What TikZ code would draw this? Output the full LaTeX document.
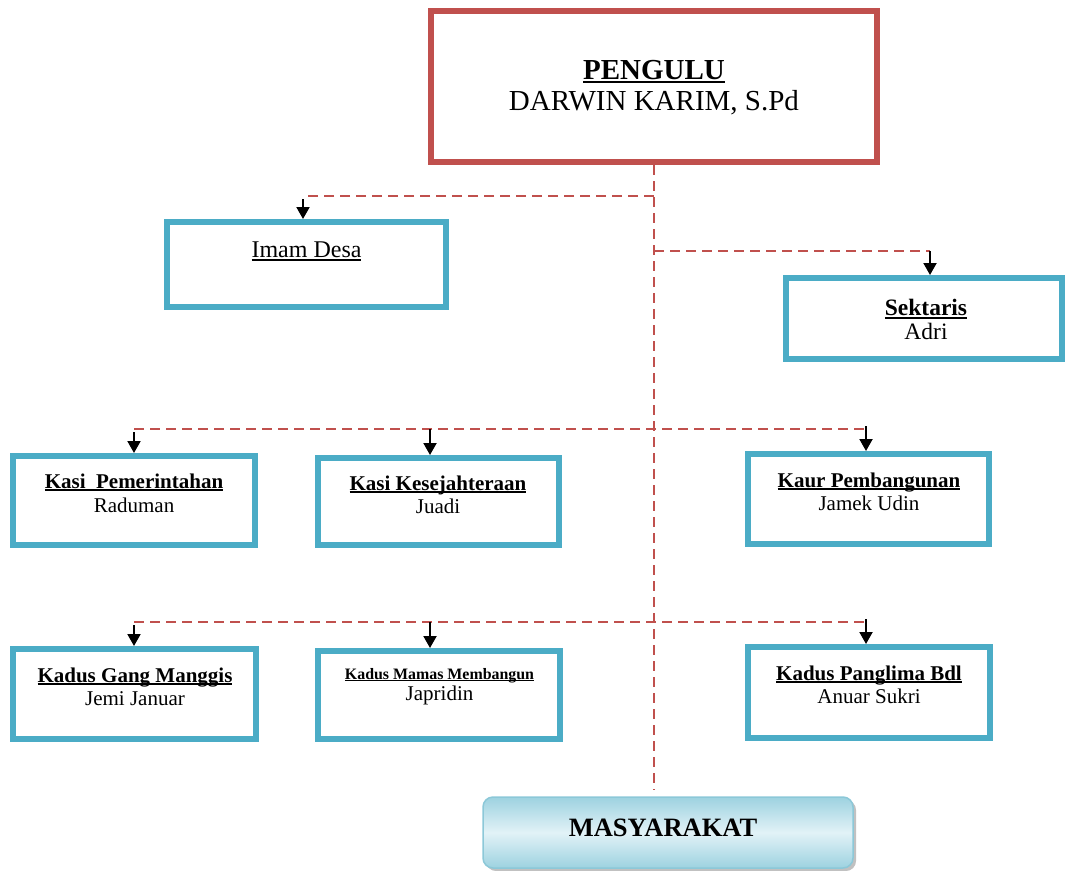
\documentclass[tikz,border=0pt]{standalone}
\usepackage{fontspec}
\setmainfont{Liberation Serif}
\usetikzlibrary{arrows.meta,shadows}
\definecolor{boxred}{HTML}{C0504D}
\definecolor{boxblue}{HTML}{4BACC6}
\definecolor{masyedge}{HTML}{8CC8D8}
\definecolor{masydark}{HTML}{9DD2E0}
\definecolor{masylight}{HTML}{E2F2F7}
\newsavebox\ulsave
\newcommand\wul[1]{\sbox\ulsave{#1}\rlap{\vrule height -0.07em depth 0.15em width \wd\ulsave}\usebox\ulsave}
\begin{document}
\begin{tikzpicture}[x=1pt,y=-1pt,
  redbox/.style={draw=boxred, line width=6pt, fill=white, inner sep=0pt},
  bluebox/.style={draw=boxblue, line width=6pt, fill=white, inner sep=0pt},
  txt/.style={inner sep=0pt, anchor=base},
  big/.style={font=\fontsize{29}{32}\selectfont},
  mid/.style={font=\fontsize{23.5}{26}\selectfont},
  norm/.style={font=\fontsize{21}{24}\selectfont},
  small/.style={font=\fontsize{15.9}{18}\selectfont},
  dashline/.style={draw=boxred, line width=2.5pt, dash pattern=on 10pt off 6pt},
  arr/.style={draw=black, line width=2pt, -{Triangle[width=13pt,length=12pt]}},
  masybox/.style={draw=masyedge, line width=1.5pt, rounded corners=10pt, inner sep=0pt,
    shading angle=20, top color=masydark, bottom color=masydark, middle color=masylight,
    drop shadow={shadow xshift=3pt, shadow yshift=-3pt, fill=gray!70, opacity=.7}}
]
\useasboundingbox (0,0) rectangle (1065,870);

% boxes
\node[redbox, minimum width=446pt, minimum height=151pt] (peng) at (654,86.5) {};
\node[bluebox, minimum width=279pt, minimum height=85pt] (imam) at (306.5,264.5) {};
\node[bluebox, minimum width=276pt, minimum height=81pt] (sek) at (924,318.5) {};
\node[bluebox, minimum width=242pt, minimum height=89pt] (kpem) at (134,500.5) {};
\node[bluebox, minimum width=241pt, minimum height=87pt] (kkes) at (438.5,501.5) {};
\node[bluebox, minimum width=241pt, minimum height=90pt] (kaur) at (868.5,499) {};
\node[bluebox, minimum width=243pt, minimum height=90pt] (kgm) at (134.5,694) {};
\node[bluebox, minimum width=242pt, minimum height=88pt] (kmm) at (439,695) {};
\node[bluebox, minimum width=242pt, minimum height=91pt] (kpb) at (869,692.5) {};
\node[masybox, minimum width=370pt, minimum height=71pt] (masy) at (668,832.5) {};

% texts
\node[txt, big] (pengT) at (654,79) {\textbf{\wul{PENGULU}}};
\node[txt, big] (pengN) at (654,110) {DARWIN KARIM, S.Pd};
\node[txt, font=\fontsize{24}{27}\selectfont] (imamT) at (306.5,257) {\wul{Imam Desa}};
\node[txt, mid] (sekT) at (926,315) {\textbf{\wul{Sektaris}}};
\node[txt, mid] (sekN) at (926,339) {Adri};
\node[txt, norm] (kpemT) at (134,488) {\textbf{\wul{Kasi\ \ Pemerintahan}}};
\node[txt, norm] (kpemN) at (134,512) {Raduman};
\node[txt, norm] (kkesT) at (438,490) {\textbf{\wul{Kasi Kesejahteraan}}};
\node[txt, norm] (kkesN) at (438,513) {Juadi};
\node[txt, norm] (kaurT) at (869,487) {\textbf{\wul{Kaur Pembangunan}}};
\node[txt, norm] (kaurN) at (869,510) {Jamek Udin};
\node[txt, norm] (kgmT) at (135,682) {\textbf{\wul{Kadus Gang Manggis}}};
\node[txt, norm] (kgmN) at (135,705) {Jemi Januar};
\node[txt, small] (kmmT) at (439.5,679) {\textbf{\wul{Kadus Mamas Membangun}}};
\node[txt, norm] (kmmN) at (439.5,700) {Japridin};
\node[txt, norm] (kpbT) at (869,680) {\textbf{\wul{Kadus Panglima Bdl}}};
\node[txt, norm] (kpbN) at (869,703) {Anuar Sukri};
\node[txt, font=\fontsize{26.5}{30}\selectfont] (masyT) at (663,836) {\textbf{MASYARAKAT}};

% connector points
\coordinate (trunkEnd) at (654,790);
\coordinate (jImam) at (654,196);
\coordinate (aImam) at (303,196);
\coordinate (jSek) at (654,251);
\coordinate (aSek) at (930,251);
\coordinate (r1L) at (134,429);
\coordinate (r1M) at (430,429);
\coordinate (r1R) at (866,429);
\coordinate (r2L) at (134,622);
\coordinate (r2M) at (430,622);
\coordinate (r2R) at (866,622);

% dashed lines
\draw[dashline] (peng.south) -- (trunkEnd);
\draw[dashline] (jImam) -- (aImam);
\draw[dashline] (jSek) -- (aSek);
\draw[dashline] (r1L) -- (r1R);
\draw[dashline] (r2L) -- (r2R);

% arrows
\draw[arr] ([yshift=-3pt]aImam) -- (aImam |- imam.north);
\draw[arr] (aSek) -- (aSek |- sek.north);
\draw[arr] ([yshift=-3pt]r1L) -- (r1L |- kpem.north);
\draw[arr] (r1M) -- (r1M |- kkes.north);
\draw[arr] ([yshift=3pt]r1R) -- (r1R |- kaur.north);
\draw[arr] ([yshift=-3pt]r2L) -- (r2L |- kgm.north);
\draw[arr] (r2M) -- (r2M |- kmm.north);
\draw[arr] ([yshift=3pt]r2R) -- (r2R |- kpb.north);
\end{tikzpicture}
\end{document}
